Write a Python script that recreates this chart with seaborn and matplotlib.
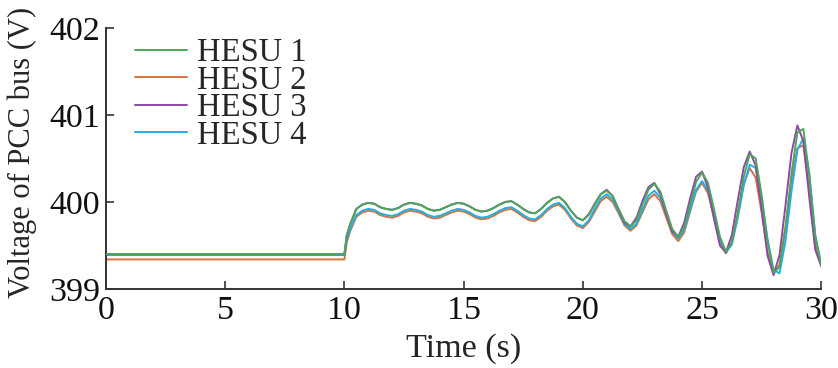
import matplotlib
matplotlib.use("Agg")
import matplotlib.pyplot as plt
import seaborn as sns

# time samples (s): flat part, step at 10 s, then every 0.25 s
time = [0, 10.0, 10.1,
        10.25, 10.5, 10.75, 11.0,
        11.25, 11.5, 11.75, 12.0,
        12.25, 12.5, 12.75, 13.0,
        13.25, 13.5, 13.75, 14.0,
        14.25, 14.5, 14.75, 15.0,
        15.25, 15.5, 15.75, 16.0,
        16.25, 16.5, 16.75, 17.0,
        17.25, 17.5, 17.75, 18.0,
        18.25, 18.5, 18.75, 19.0,
        19.25, 19.5, 19.75, 20.0,
        20.25, 20.5, 20.75, 21.0,
        21.25, 21.5, 21.75, 22.0,
        22.25, 22.5, 22.75, 23.0,
        23.25, 23.5, 23.75, 24.0,
        24.25, 24.5, 24.75, 25.0,
        25.25, 25.5, 25.75, 26.0,
        26.25, 26.5, 26.75, 27.0,
        27.25, 27.5, 27.75, 28.0,
        28.25, 28.5, 28.75, 29.0,
        29.25, 29.5, 29.75, 30.0]

hesu1 = [399.40, 399.40, 399.62,
         399.75, 399.92, 399.97, 399.99,
         399.98, 399.94, 399.92, 399.91,
         399.93, 399.97, 399.99, 399.98,
         399.96, 399.92, 399.90, 399.91,
         399.94, 399.97, 399.99, 399.98,
         399.95, 399.91, 399.89, 399.90,
         399.93, 399.97, 400.00, 400.01,
         399.97, 399.92, 399.88, 399.87,
         399.92, 399.99, 400.04, 400.06,
         400.00, 399.90, 399.82, 399.79,
         399.85, 399.97, 400.09, 400.13,
         400.07, 399.92, 399.78, 399.72,
         399.79, 399.97, 400.14, 400.21,
         400.12, 399.90, 399.69, 399.60,
         399.71, 399.97, 400.23, 400.34,
         400.22, 399.92, 399.60, 399.43,
         399.53, 399.87, 400.29, 400.55,
         400.50, 400.08, 399.54, 399.19,
         399.25, 399.70, 400.32, 400.80,
         400.84, 400.30, 399.60, 399.27]

hesu2 = [399.34, 399.34, 399.54,
         399.67, 399.83, 399.88, 399.90,
         399.89, 399.85, 399.83, 399.82,
         399.84, 399.88, 399.90, 399.89,
         399.87, 399.83, 399.81, 399.82,
         399.85, 399.88, 399.90, 399.89,
         399.86, 399.82, 399.80, 399.81,
         399.84, 399.88, 399.91, 399.92,
         399.88, 399.83, 399.79, 399.78,
         399.83, 399.90, 399.95, 399.97,
         399.91, 399.81, 399.73, 399.70,
         399.77, 399.89, 400.01, 400.06,
         400.00, 399.87, 399.73, 399.67,
         399.73, 399.88, 400.03, 400.09,
         400.01, 399.82, 399.63, 399.55,
         399.65, 399.89, 400.12, 400.22,
         400.10, 399.82, 399.53, 399.41,
         399.54, 399.87, 400.21, 400.39,
         400.28, 399.88, 399.42, 399.17,
         399.28, 399.71, 400.25, 400.62,
         400.65, 400.15, 399.50, 399.27]

hesu3 = [399.40, 399.40, 399.62,
         399.75, 399.92, 399.97, 399.99,
         399.98, 399.94, 399.92, 399.91,
         399.93, 399.97, 399.99, 399.98,
         399.96, 399.92, 399.90, 399.91,
         399.94, 399.97, 399.99, 399.98,
         399.95, 399.91, 399.89, 399.90,
         399.93, 399.97, 400.00, 400.01,
         399.97, 399.92, 399.88, 399.87,
         399.92, 399.99, 400.04, 400.06,
         400.00, 399.90, 399.82, 399.79,
         399.86, 399.98, 400.09, 400.14,
         400.07, 399.91, 399.76, 399.72,
         399.82, 400.01, 400.17, 400.22,
         400.09, 399.86, 399.66, 399.60,
         399.76, 400.04, 400.29, 400.35,
         400.16, 399.81, 399.50, 399.42,
         399.62, 400.02, 400.40, 400.58,
         400.42, 399.91, 399.38, 399.16,
         399.39, 399.96, 400.56, 400.88,
         400.70, 400.05, 399.45, 399.26]

hesu4 = [399.39, 399.39, 399.57,
         399.69, 399.85, 399.90, 399.92,
         399.91, 399.87, 399.85, 399.84,
         399.86, 399.90, 399.92, 399.91,
         399.89, 399.85, 399.83, 399.84,
         399.87, 399.90, 399.92, 399.91,
         399.88, 399.84, 399.82, 399.83,
         399.86, 399.90, 399.93, 399.94,
         399.90, 399.85, 399.81, 399.80,
         399.85, 399.92, 399.97, 399.99,
         399.93, 399.83, 399.75, 399.72,
         399.79, 399.92, 400.04, 400.09,
         400.03, 399.89, 399.75, 399.69,
         399.75, 399.91, 400.07, 400.13,
         400.05, 399.86, 399.66, 399.58,
         399.68, 399.91, 400.14, 400.24,
         400.13, 399.86, 399.58, 399.42,
         399.51, 399.82, 400.19, 400.43,
         400.39, 400.04, 399.57, 399.22,
         399.18, 399.55, 400.12, 400.60,
         400.73, 400.33, 399.62, 399.28]

labels = ["HESU 1", "HESU 2", "HESU 3", "HESU 4"]
colors = ["#4da65a", "#d4743d", "#8f47a5", "#22aee6"]
layers = [4, 1, 3, 2]   # green on top, orange at the back

sns.set_style("ticks")
plt.rcParams["font.family"] = ["Liberation Serif", "DejaVu Serif"]

fig = plt.figure(figsize=(8.38, 3.68), dpi=100)
ax = fig.add_axes([0.1265, 0.2147, 0.8535, 0.7092])

for vals, lab, col, z in zip([hesu1, hesu2, hesu3, hesu4], labels, colors, layers):
    sns.lineplot(x=time, y=vals, ax=ax, color=col, label=lab, linewidth=1.4, zorder=z)

ax.set_xlim(0, 30)
ax.set_ylim(399, 402)
ax.set_xticks([0, 5, 10, 15, 20, 25, 30])
ax.set_yticks([399, 400, 401, 402])
ax.tick_params(direction="in", length=6, width=1.2, labelsize=24.5,
               color="#333333", labelcolor="#111111")
ax.tick_params(axis="x", pad=5)
ax.tick_params(axis="y", pad=4)
ax.set_xlabel("Time (s)", fontsize=24.5, labelpad=5)
ax.set_ylabel("Voltage of PCC bus (V)", fontsize=22)
ax.yaxis.set_label_coords(-0.097, 0.525)
sns.despine(ax=ax)
for s in ["left", "bottom"]:
    ax.spines[s].set_linewidth(1.4)
    ax.spines[s].set_color("#333333")

ax.legend(loc="upper left", bbox_to_anchor=(0.04, 0.963), frameon=False,
          fontsize=23.5, handlelength=1.6, handletextpad=0.3, labelspacing=-0.09,
          borderpad=0, borderaxespad=0)

fig.savefig("out.png", dpi=100)
